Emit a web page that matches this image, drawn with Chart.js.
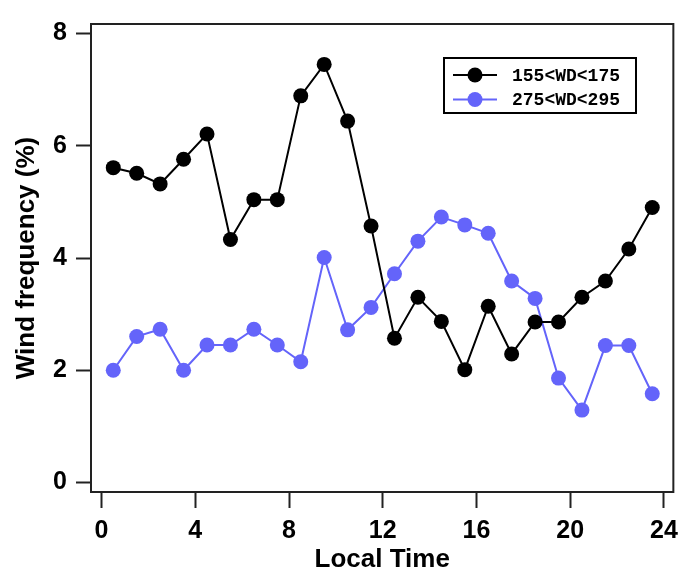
<!DOCTYPE html>
<html>
<head>
<meta charset="utf-8">
<script src="https://cdn.jsdelivr.net/npm/chart.js@4"></script>
<style>
  body { margin: 0; background: #fff; }
  canvas { display: block; }
</style>
</head>
<body>
<canvas id="myChart" width="686" height="571"></canvas>
<script>
// local hour (bin centres)
var hours = [0.5, 1.5, 2.5, 3.5, 4.5, 5.5, 6.5, 7.5, 8.5, 9.5, 10.5, 11.5,
             12.5, 13.5, 14.5, 15.5, 16.5, 17.5, 18.5, 19.5, 20.5, 21.5, 22.5, 23.5];

// wind frequency (%) for each direction sector
var wd155 = [5.61, 5.51, 5.32, 5.76, 6.21, 4.33, 5.04, 5.04, 6.89, 7.45, 6.44, 4.57,
             2.57, 3.30, 2.87, 2.01, 3.14, 2.29, 2.86, 2.86, 3.30, 3.59, 4.16, 4.90];
var wd275 = [2.00, 2.60, 2.73, 2.00, 2.45, 2.45, 2.73, 2.45, 2.15, 4.01, 2.72, 3.12,
             3.72, 4.30, 4.73, 4.59, 4.44, 3.59, 3.28, 1.86, 1.29, 2.44, 2.44, 1.58];

var seriesLabels = ['155<WD<175', '275<WD<295'];
var xTicks = [0, 4, 8, 12, 16, 20, 24];
var yTicks = [0, 2, 4, 6, 8];

function toPoints(xs, ys) {
  var pts = [];
  for (var i = 0; i < xs.length; i++) {
    pts.push({x: xs[i], y: ys[i]});
  }
  return pts;
}

function fixTicks(list) {
  return function(scale) {
    scale.ticks = list.map(function(v) { return {value: v}; });
  };
}

// box round the plot area
var framePlugin = {
  id: 'frame',
  beforeDatasetsDraw: function(chart) {
    var a = chart.chartArea, ctx = chart.ctx;
    ctx.save();
    ctx.strokeStyle = '#222';
    ctx.lineWidth = 2;
    ctx.strokeRect(a.left, a.top, a.right - a.left, a.bottom - a.top);
    ctx.restore();
  }
};

// legend drawn inside the plot, top right
var legendPlugin = {
  id: 'insideLegend',
  afterDatasetsDraw: function(chart) {
    var ctx = chart.ctx;
    ctx.save();
    ctx.fillStyle = '#fff';
    ctx.fillRect(444, 58, 192, 55);
    ctx.strokeStyle = '#000';
    ctx.lineWidth = 2;
    ctx.strokeRect(444, 58, 192, 55);
    chart.data.datasets.forEach(function(ds, i) {
      var cy = 75 + i * 24.5;
      ctx.strokeStyle = ds.borderColor;
      ctx.lineWidth = 2;
      ctx.beginPath();
      ctx.moveTo(453, cy);
      ctx.lineTo(497, cy);
      ctx.stroke();
      ctx.fillStyle = ds.backgroundColor;
      ctx.beginPath();
      ctx.arc(475, cy, 7.5, 0, Math.PI * 2);
      ctx.fill();
      ctx.fillStyle = '#000';
      ctx.font = 'bold 18px "Liberation Mono", monospace';
      ctx.textBaseline = 'middle';
      ctx.fillText(ds.label, 512, cy + 1);
    });
    ctx.restore();
  }
};

Chart.defaults.font.family = "'Liberation Sans', Arial, sans-serif";
Chart.defaults.color = '#000';

var ctx = document.getElementById('myChart').getContext('2d');
var myChart = new Chart(ctx, {
  type: 'line',
  data: {
    datasets: [{
      label: seriesLabels[0],
      data: toPoints(hours, wd155),
      borderColor: '#000',
      backgroundColor: '#000',
      borderWidth: 2,
      pointRadius: 7.5,
      pointBorderWidth: 0,
      tension: 0
    }, {
      label: seriesLabels[1],
      data: toPoints(hours, wd275),
      borderColor: '#6464fa',
      backgroundColor: '#6464fa',
      borderWidth: 2,
      pointRadius: 7.5,
      pointBorderWidth: 0,
      tension: 0
    }]
  },
  options: {
    responsive: false,
    animation: false,
    devicePixelRatio: 1,
    layout: {padding: {top: 14, right: 5, left: 0, bottom: 0}},
    plugins: {
      legend: {display: false},
      tooltip: {enabled: false}
    },
    scales: {
      x: {
        type: 'linear',
        min: -0.45,
        max: 24.4,
        afterBuildTicks: fixTicks(xTicks),
        afterFit: function(s) { s.height = 79; },
        border: {display: false},
        grid: {drawOnChartArea: false, tickLength: 16, tickColor: '#222', tickWidth: 2},
        ticks: {font: {size: 25, weight: 'bold'}, color: '#000', padding: 8, maxRotation: 0},
        title: {display: true, text: 'Local Time', color: '#000',
                font: {size: 26, weight: 'bold'}, padding: {top: 0, bottom: -4}}
      },
      y: {
        min: -0.17,
        max: 8.17,
        afterBuildTicks: fixTicks(yTicks),
        afterFit: function(s) { s.width = 91; },
        border: {display: false},
        grid: {drawOnChartArea: false, tickLength: 15, tickColor: '#222', tickWidth: 2},
        ticks: {font: {size: 25, weight: 'bold'}, color: '#000', padding: 9},
        title: {display: true, text: 'Wind frequency (%)', color: '#000',
                font: {size: 26, weight: 'bold'}, padding: {top: 11, bottom: 0}}
      }
    }
  },
  plugins: [framePlugin, legendPlugin]
});
</script>
</body>
</html>
